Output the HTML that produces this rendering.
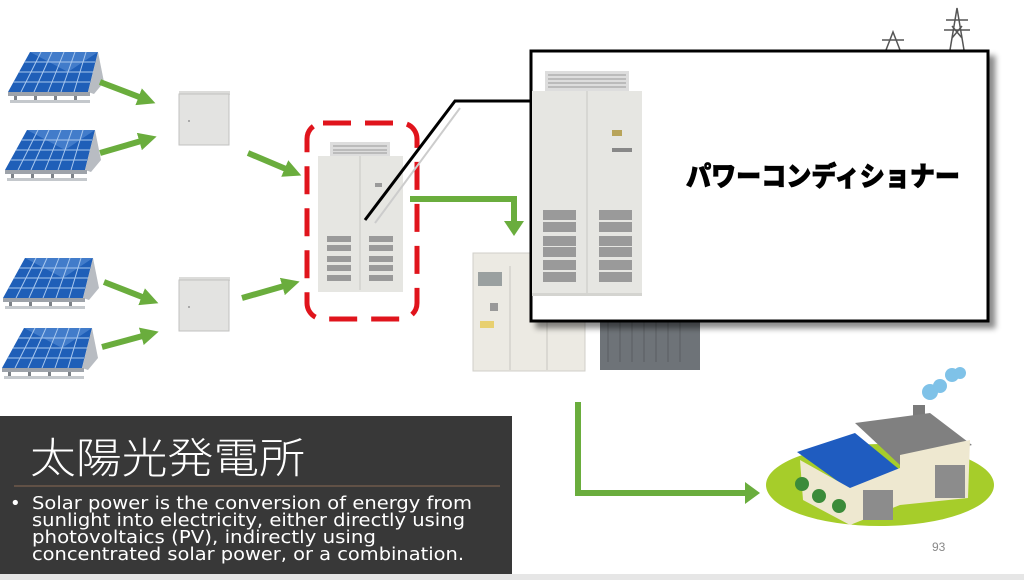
<!DOCTYPE html>
<html><head><meta charset="utf-8"><style>
html,body{margin:0;padding:0;background:#fff;width:1024px;height:580px;overflow:hidden}
svg{display:block}
</style></head><body>
<svg width="1024" height="580" viewBox="0 0 1024 580" xmlns="http://www.w3.org/2000/svg">
<defs>
 <g id="panel">
  <polygon points="22,0 90,0 80,40 0,40" fill="#1f5fb8"/>
  <polygon points="22,0 90,0 60,20" fill="#5a8fd6" opacity="0.6"/>
  <g stroke="#a9c8ee" stroke-width="1">
   <line x1="16" y1="10" x2="87" y2="10"/><line x1="11" y1="20" x2="85" y2="20"/><line x1="5" y1="30" x2="82" y2="30"/>
   <line x1="33" y1="0" x2="13" y2="40"/><line x1="44" y1="0" x2="26" y2="40"/><line x1="56" y1="0" x2="40" y2="40"/><line x1="67" y1="0" x2="53" y2="40"/><line x1="78" y1="0" x2="66" y2="40"/>
  </g>
  <polygon points="90,0 96,30 86,42 80,40" fill="#b8bcc2"/>
  <rect x="0" y="40" width="82" height="4" fill="#9ea3aa"/>
  <rect x="2" y="48" width="80" height="3" fill="#c4c8cc"/>
  <g fill="#7d8288"><rect x="6" y="44" width="3" height="4"/><rect x="26" y="44" width="3" height="4"/><rect x="46" y="44" width="3" height="4"/><rect x="66" y="44" width="3" height="4"/></g>
 </g>
 <g id="box">
  <rect x="0" y="0" width="51" height="4" fill="#dcdcda"/>
  <rect x="0" y="3" width="50" height="51" fill="#e3e3e1" stroke="#c2c2c0"/>
  <circle cx="10" cy="30" r="1" fill="#999"/>
 </g>
 <marker id="ah" viewBox="0 0 10 10" refX="5" refY="5" markerWidth="3" markerHeight="3" orient="auto"><path d="M0,0 L10,5 L0,10z" fill="#6aad3d"/></marker>
 <filter id="sh" x="-5%" y="-5%" width="115%" height="120%"><feDropShadow dx="6" dy="6" stdDeviation="3" flood-color="#000" flood-opacity="0.45"/></filter>
</defs>

<g stroke="#555" stroke-width="1.5" fill="none">
 <path d="M950,50 L957,8 L964,50 M946,20 L968,20 M944,30 L970,30 M952,38 L962,26 M952,26 L962,38"/>
 <path d="M886,50 L893,32 L900,50 M882,40 L904,40"/>
</g>

<use href="#panel" x="8" y="52"/>
<use href="#panel" x="5" y="130"/>
<use href="#panel" x="3" y="258"/>
<use href="#panel" x="2" y="328"/>

<use href="#box" x="179" y="91"/>
<use href="#box" x="179" y="277"/>

<g stroke="#6aad3d" stroke-width="6" fill="none" marker-end="url(#ah)">
 <line x1="100" y1="82" x2="147" y2="100"/>
 <line x1="100" y1="153" x2="148" y2="139"/>
 <line x1="104" y1="282" x2="150" y2="300"/>
 <line x1="102" y1="347" x2="150" y2="334"/>
 <line x1="248" y1="153" x2="293" y2="172"/>
 <line x1="242" y1="298" x2="291" y2="284"/>
</g>
<path d="M410,199 L514,199 L514,222" stroke="#6aad3d" stroke-width="6" fill="none"/>
<path d="M504,221 L524,221 L514,236z" fill="#6aad3d"/>
<path d="M578,402 L578,493 L748,493" stroke="#6aad3d" stroke-width="6" fill="none"/>
<path d="M745,482 L760,493 L745,504z" fill="#6aad3d"/>

<g>
 <rect x="330" y="142" width="60" height="14" fill="#ddd"/>
 <g stroke="#999" stroke-width="1"><line x1="333" y1="146" x2="387" y2="146"/><line x1="333" y1="150" x2="387" y2="150"/><line x1="333" y1="153" x2="387" y2="153"/></g>
 <rect x="318" y="156" width="85" height="136" fill="#e6e6e2"/>
 <line x1="360" y1="156" x2="360" y2="290" stroke="#c8c8c4"/>
 <g fill="#9a9a9a">
  <rect x="327" y="236" width="24" height="6"/><rect x="327" y="245" width="24" height="6"/><rect x="327" y="256" width="24" height="6"/><rect x="327" y="265" width="24" height="6"/><rect x="327" y="275" width="24" height="6"/>
  <rect x="369" y="236" width="24" height="6"/><rect x="369" y="245" width="24" height="6"/><rect x="369" y="256" width="24" height="6"/><rect x="369" y="265" width="24" height="6"/><rect x="369" y="275" width="24" height="6"/>
  <rect x="375" y="183" width="7" height="4"/>
 </g>
</g>
<rect x="307" y="123" width="110" height="196" rx="16" fill="none" stroke="#e0141c" stroke-width="5" stroke-dasharray="28,14"/>

<rect x="473" y="253" width="112" height="118" fill="#eceae3" stroke="#d0cfc9"/>
<line x1="510" y1="266" x2="510" y2="370" stroke="#c9c7c0"/><line x1="547" y1="266" x2="547" y2="370" stroke="#c9c7c0"/>
<rect x="478" y="272" width="24" height="14" fill="#9aa0a0"/><rect x="490" y="303" width="8" height="8" fill="#999"/>
<rect x="480" y="321" width="14" height="7" fill="#e8d070"/>
<rect x="600" y="320" width="100" height="50" fill="#6e7378"/>
<g stroke="#5a5e62"><line x1="608" y1="322" x2="608" y2="362"/><line x1="620" y1="322" x2="620" y2="362"/><line x1="632" y1="322" x2="632" y2="362"/><line x1="644" y1="322" x2="644" y2="362"/><line x1="656" y1="322" x2="656" y2="362"/><line x1="668" y1="322" x2="668" y2="362"/><line x1="680" y1="322" x2="680" y2="362"/></g>

<path d="M365,220 L455,101 L532,101" stroke="#000" stroke-width="3" fill="none"/>
<path d="M375,223 L460,108" stroke="#ccc" stroke-width="2" fill="none"/>

<rect x="531" y="51" width="457" height="270" fill="#fff" stroke="#000" stroke-width="3" filter="url(#sh)"/>
<g>
 <rect x="545" y="71" width="84" height="20" fill="#ddd"/>
 <g stroke="#999"><line x1="548" y1="75" x2="626" y2="75"/><line x1="548" y1="79" x2="626" y2="79"/><line x1="548" y1="83" x2="626" y2="83"/><line x1="548" y1="87" x2="626" y2="87"/></g>
 <rect x="532" y="91" width="110" height="204" fill="#e6e6e2"/>
 <line x1="587" y1="91" x2="587" y2="293" stroke="#c8c8c4"/>
 <rect x="612" y="130" width="10" height="6" fill="#b8a45a"/><rect x="612" y="148" width="20" height="4" fill="#888"/>
 <g fill="#9a9a9a">
  <rect x="543" y="210" width="33" height="10"/><rect x="543" y="222" width="33" height="10"/><rect x="543" y="236" width="33" height="10"/><rect x="543" y="247" width="33" height="10"/><rect x="543" y="260" width="33" height="10"/><rect x="543" y="272" width="33" height="10"/>
  <rect x="599" y="210" width="33" height="10"/><rect x="599" y="222" width="33" height="10"/><rect x="599" y="236" width="33" height="10"/><rect x="599" y="247" width="33" height="10"/><rect x="599" y="260" width="33" height="10"/><rect x="599" y="272" width="33" height="10"/>
 </g>
 <rect x="532" y="293" width="110" height="3" fill="#d4d4d0"/>
</g>
<text x="686" y="186" font-family="'Noto Sans CJK JP',sans-serif" font-weight="900" font-size="27" fill="#000" stroke="#000" stroke-width="0.8" textLength="274" lengthAdjust="spacingAndGlyphs">パワーコンディショナー</text>

<ellipse cx="880" cy="485" rx="114" ry="41" fill="#a6cd2a"/>
<rect x="913" y="405" width="12" height="30" fill="#7a7a7a"/>
<g fill="#7fc2e8"><circle cx="930" cy="392" r="8"/><circle cx="940" cy="386" r="7"/><circle cx="952" cy="375" r="7"/><circle cx="960" cy="373" r="6"/></g>
<polygon points="855,423 930,413 972,445 900,465" fill="#808080"/>
<polygon points="900,455 970,440 968,498 900,505" fill="#eee8d0"/>
<rect x="935" y="465" width="30" height="33" fill="#8c8c8c"/>
<polygon points="797,452 855,433 900,470 850,490" fill="#1f5cc0"/>
<polygon points="800,460 850,488 850,525 803,500" fill="#eee8d0"/>
<polygon points="850,488 900,468 900,505 850,525" fill="#eee8d0"/>
<rect x="863" y="490" width="30" height="30" fill="#8c8c8c"/>
<g fill="#3b8b3a"><circle cx="802" cy="484" r="7"/><circle cx="819" cy="496" r="7"/><circle cx="839" cy="506" r="7"/></g>

<rect x="0" y="416" width="512" height="158" fill="#383838"/>
<text x="30" y="473" font-family="'Noto Sans CJK JP',sans-serif" font-size="42" fill="#fff" font-weight="300" textLength="275" lengthAdjust="spacingAndGlyphs">太陽光発電所</text>
<line x1="14" y1="486" x2="500" y2="486" stroke="#8a6a55" stroke-width="1"/>
<g font-family="'DejaVu Sans',sans-serif" font-size="18" fill="#fff" lengthAdjust="spacingAndGlyphs">
 <text x="10" y="509">•</text>
 <text x="32" y="509" textLength="440" lengthAdjust="spacingAndGlyphs">Solar power is the conversion of energy from</text>
 <text x="32" y="526" textLength="433" lengthAdjust="spacingAndGlyphs">sunlight into electricity, either directly using</text>
 <text x="32" y="543" textLength="344" lengthAdjust="spacingAndGlyphs">photovoltaics (PV), indirectly using</text>
 <text x="32" y="560" textLength="432" lengthAdjust="spacingAndGlyphs">concentrated solar power, or a combination.</text>
</g>
<text x="932" y="551" font-family="'Liberation Sans',sans-serif" font-size="12" fill="#888">93</text>
<rect x="0" y="574" width="1024" height="6" fill="#e6e6e6"/>
</svg>
</body></html>
